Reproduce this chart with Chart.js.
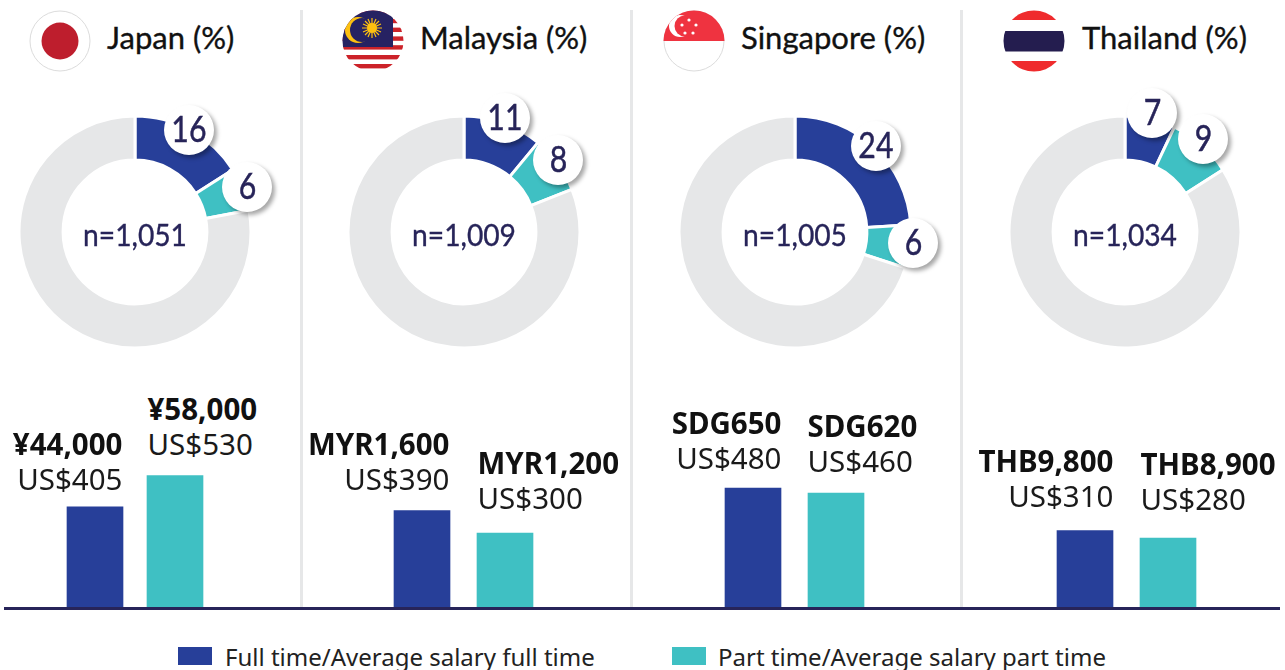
<!DOCTYPE html>
<html><head><meta charset="utf-8">
<script src="https://cdn.jsdelivr.net/npm/chart.js@4/dist/chart.umd.min.js"></script>
<style>
html,body{margin:0;padding:0;background:#fff;overflow:hidden}
#stage{position:relative;width:1285px;height:670px;overflow:hidden;font-family:"Noto Sans",sans-serif}
#stage>*{position:absolute}
canvas{display:block}
.div{top:10px;width:3px;height:598px;background:#e6e7e8}
.title{font-family:Lato,sans-serif;font-size:31px;line-height:34px;color:#111;white-space:nowrap;top:20px;-webkit-text-stroke:.35px #111}
.n{font-family:Lato,sans-serif;font-size:30px;line-height:34px;color:#272459;white-space:nowrap;transform:translateX(-50%) scaleX(.94);top:217px;-webkit-text-stroke:.35px #272459}
.badge{width:50px;height:50px;border-radius:50%;background:#fff;box-shadow:3px 3px 4px rgba(0,0,0,.35);color:#272459;font-family:Lato,sans-serif;font-size:36px;line-height:47px;text-align:center}
.badge span{display:inline-block;transform:scaleX(.84);-webkit-text-stroke:.5px #272459}
.sal{font-size:29.5px;line-height:35px;color:#1a1a1a;white-space:nowrap}
.sal b{display:block;font-weight:700;color:#111}
.sal span{display:block}
.leg{font-size:24px;line-height:30px;color:#222;white-space:nowrap;top:642px}
.sw{width:34px;height:18px;top:647px}
svg{display:block}
</style></head><body><div id="stage"></div>
<script>
const countries=["Japan","Malaysia","Singapore","Thailand"];
const fullTimeShare=[16,11,24,7];
const partTimeShare=[6,8,6,9];
const otherShare=[78,81,70,84];
const sampleSizes=["n=1,051","n=1,009","n=1,005","n=1,034"];
const fullSalaryLocal=["¥44,000","MYR1,600","SDG650","THB9,800"];
const partSalaryLocal=["¥58,000","MYR1,200","SDG620","THB8,900"];
const fullSalaryUsd=[405,390,480,310];
const partSalaryUsd=[530,300,460,280];
const barLabels=["Full time","Part time"];
const legendLabels=["Full time/Average salary full time","Part time/Average salary part time"];

const BLUE="#273f99",TEAL="#3fc0c3",GREY="#e6e7e8";
const donutCx=[135,464,795,1125],donutCy=232,donutR=115;
const titleX=[107,420,741,1082];
const flagCx=[60,373,694,1034];
const dividerX=[300,630,960];
const badgeFull=[[189,130],[505,118],[876,146],[1152,113]];
const badgePart=[[247,187],[558,160],[913,243],[1203,139]];
const barLayout=[{left:55,width:160,pl:0,pr:0},{left:380,width:168,pl:.5,pr:1.5},{left:711,width:168,pl:.5,pr:1.5},{left:1043,width:168,pl:.5,pr:1.5}];
const salFullRight=[122.5,449.5,781.5,1113.5],salFullTop=[426,426,405,443];
const salPartLeft=[147.5,477.5,807.5,1140.5],salPartTop=[391,445,408,446];

const stage=document.getElementById("stage");
function el(tag,cls,css,html){const e=document.createElement(tag);if(cls)e.className=cls;Object.assign(e.style,css||{});if(html!=null)e.innerHTML=html;stage.appendChild(e);return e;}

const flags=[
`<circle cx="31" cy="31" r="30" fill="#fff" stroke="#dcdcdc"/><circle cx="31" cy="31" r="18.5" fill="#be1e2d"/>`,
`<defs><clipPath id="cm"><circle cx="31" cy="31" r="30.5"/></clipPath></defs><g clip-path="url(#cm)"><rect width="62" height="62" fill="#fff"/>
<rect y="0" width="62" height="4.4" fill="#cc2229"/><rect y="8.8" width="62" height="4.4" fill="#cc2229"/><rect y="17.6" width="62" height="4.4" fill="#cc2229"/><rect y="26.4" width="62" height="4.4" fill="#cc2229"/><rect y="35.2" width="62" height="4.4" fill="#cc2229"/><rect y="45" width="62" height="4.4" fill="#cc2229"/><rect y="54" width="62" height="4.4" fill="#cc2229"/>
<rect width="51" height="37" fill="#262262"/><circle cx="16" cy="20" r="13" fill="#fdc010"/><circle cx="20" cy="20" r="12" fill="#262262"/><circle cx="30" cy="18" r="5" fill="#fdc010"/><g stroke="#fdc010" stroke-width="1.2"><path d="M30 8V28M20 18H40M23 11L37 25M37 11L23 25M26 9L34 27M34 9L26 27M21 14L39 22M39 14L21 22"/></g></g>`,
`<defs><clipPath id="cs"><circle cx="31" cy="31" r="30.5"/></clipPath></defs><circle cx="31" cy="31" r="30" fill="#fff" stroke="#dcdcdc"/><g clip-path="url(#cs)"><rect width="62" height="31" fill="#ef3340"/><circle cx="17" cy="16" r="11" fill="#fff"/><circle cx="22" cy="16" r="10.5" fill="#ef3340"/><g fill="#fff"><circle cx="26" cy="10" r="1.6"/><circle cx="33" cy="15" r="1.6"/><circle cx="30" cy="23" r="1.6"/><circle cx="22" cy="23" r="1.6"/><circle cx="19" cy="15" r="1.6"/></g></g>`,
`<defs><clipPath id="ct"><circle cx="31" cy="31" r="30.5"/></clipPath></defs><g clip-path="url(#ct)"><rect width="62" height="62" fill="#fff"/><rect width="62" height="10" fill="#ef2b2d"/><rect y="51" width="62" height="11" fill="#ef2b2d"/><rect y="21" width="62" height="20.5" fill="#241d4f"/></g>`
];

countries.forEach((c,i)=>{
  const f=el("div","",{left:(flagCx[i]-31)+"px",top:"10px",width:"62px",height:"62px"},`<svg width="62" height="62" viewBox="0 0 62 62">${flags[i]}</svg>`);
  el("div","title",{left:titleX[i]+"px"},c+" (%)");

  const size=2*donutR+6;
  const dc=el("canvas","",{left:(donutCx[i]-size/2)+"px",top:(donutCy-size/2)+"px"});
  dc.width=size;dc.height=size;
  new Chart(dc,{type:"doughnut",data:{labels:["Full time","Part time","Other"],datasets:[{data:[fullTimeShare[i],partTimeShare[i],otherShare[i]],backgroundColor:[BLUE,TEAL,GREY],borderColor:"#fff",borderWidth:3,hoverOffset:0}]},
    options:{responsive:false,animation:false,cutout:"62%",layout:{padding:.5},plugins:{legend:{display:false},tooltip:{enabled:false}}}});

  el("div","n",{left:(donutCx[i]-.5)+"px"},sampleSizes[i]);
  el("div","badge",{left:(badgeFull[i][0]-25)+"px",top:(badgeFull[i][1]-25)+"px"},`<span>${fullTimeShare[i]}</span>`);
  el("div","badge",{left:(badgePart[i][0]-25)+"px",top:(badgePart[i][1]-25)+"px"},`<span>${partTimeShare[i]}</span>`);

  const L=barLayout[i];
  const bc=el("canvas","",{left:L.left+"px",top:"468px"});
  bc.width=L.width;bc.height=140;
  new Chart(bc,{type:"bar",data:{labels:barLabels,datasets:[{data:[fullSalaryUsd[i],partSalaryUsd[i]],backgroundColor:[BLUE,TEAL],barThickness:56,borderWidth:0}]},
    options:{responsive:false,animation:false,layout:{padding:{left:L.pl,right:L.pr,top:0,bottom:0}},
      scales:{x:{display:false},y:{display:false,min:0,max:560}},plugins:{legend:{display:false},tooltip:{enabled:false}}}});

  el("div","sal",{left:(salFullRight[i]-200)+"px",width:"200px",textAlign:"right",top:salFullTop[i]+"px"},`<b>${fullSalaryLocal[i]}</b><span>US$${fullSalaryUsd[i]}</span>`);
  el("div","sal",{left:salPartLeft[i]+"px",top:salPartTop[i]+"px"},`<b>${partSalaryLocal[i]}</b><span>US$${partSalaryUsd[i]}</span>`);
});
dividerX.forEach(x=>el("div","div",{left:x+"px"}));
el("div","",{left:"4px",top:"607px",width:"1276px",height:"3px",background:"#272459"});
el("div","sw",{left:"178px",background:BLUE});
el("div","leg",{left:"225px"},legendLabels[0]);
el("div","sw",{left:"672px",background:TEAL});
el("div","leg",{left:"718px"},legendLabels[1]);
</script></body></html>
